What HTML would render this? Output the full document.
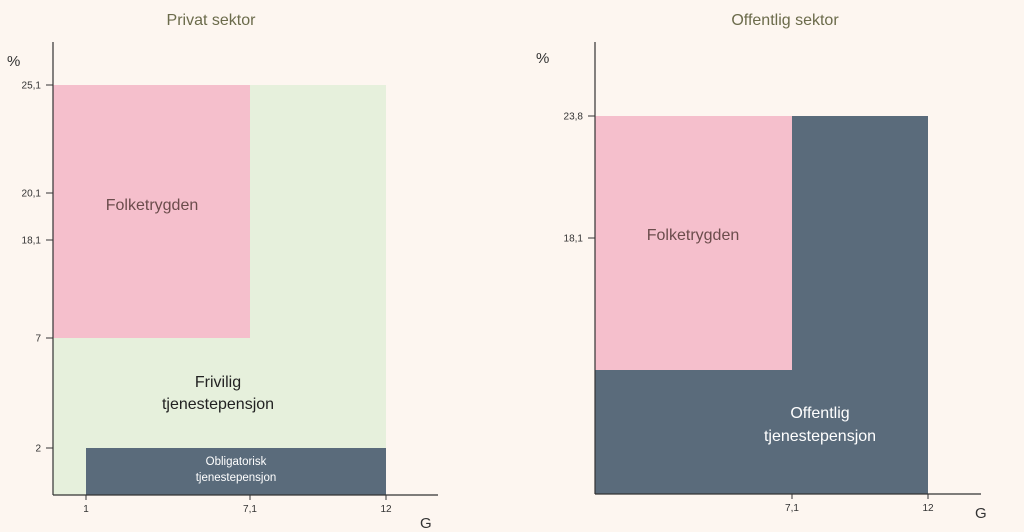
<!DOCTYPE html>
<html><head><meta charset="utf-8"><style>
html,body{margin:0;padding:0;background:#fdf6f0;}
svg{display:block;font-family:"Liberation Sans",sans-serif;}
</style></head><body>
<svg width="1024" height="532" viewBox="0 0 1024 532">
<rect width="1024" height="532" fill="#fdf6f0"/>
<g id="left"></g>
<g id="right"></g>
</svg>
<script>
// Private sector data
const privYTicks = [2, 7, 18.1, 20.1, 25.1];
const privYTickLabels = ["2", "7", "18,1", "20,1", "25,1"];
const privXTicks = [1, 7.1, 12];
const privXTickLabels = ["1", "7,1", "12"];
const privSegNames = ["frivilig", "folketrygden", "obligatorisk"];
const privX0 = [0, 0, 1];
const privX1 = [12, 7.1, 12];
const privY0 = [0, 7, 0];
const privY1 = [25.1, 25.1, 2];
// Public sector data
const pubYTicks = [18.1, 23.8];
const pubYTickLabels = ["18,1", "23,8"];
const pubXTicks = [7.1, 12];
const pubXTickLabels = ["7,1", "12"];
const pubSegNames = ["offentlig", "folketrygden"];
const pubX0 = [0, 0];
const pubX1 = [12, 7.1];
const pubY0 = [0, 7];
const pubY1 = [23.8, 23.8];

const NS = "http://www.w3.org/2000/svg";
function piece(dom, rng){
  return v => {
    for (let i = 0; i < dom.length - 1; i++) {
      if (v <= dom[i+1] || i === dom.length - 2) {
        const t = (v - dom[i]) / (dom[i+1] - dom[i]);
        return rng[i] + t * (rng[i+1] - rng[i]);
      }
    }
  };
}
function mk(parent, tag, attrs){
  const e = document.createElementNS(NS, tag);
  for (const k in attrs) e.setAttribute(k, attrs[k]);
  parent.appendChild(e); return e;
}
function txt(parent, x, y, s, size, fill, anchor){
  const t = mk(parent, "text", {x:x, y:y, "font-size":size, fill:fill, "text-anchor":anchor||"middle"});
  t.textContent = s; return t;
}

function drawChart(g, o){
  const {xs, ys, segX0, segX1, segY0, segY1, names, colors} = o;
  for (let i = 0; i < names.length; i++) {
    const x = xs(segX0[i]), x2 = xs(segX1[i]), y = ys(segY1[i]), y2 = ys(segY0[i]);
    const r = mk(g, "rect", {x:x, y:y, width:x2-x, height:y2-y, fill:colors[i]});
    
    
  }
  const ax = xs(0), ay = ys(0);
  const yl = mk(g, "line", {x1:ax, y1:42, x2:ax, y2:ay, stroke:"#333", "stroke-width":1.2});
  
  
  const xl = mk(g, "line", {x1:ax, y1:ay, x2:o.xEnd, y2:ay, stroke:"#333", "stroke-width":1.2});
  
  
  o.yTicks.forEach((v, i) => {
    const y = ys(v);
    const l = mk(g, "line", {x1:ax-7, y1:y, x2:ax, y2:y, stroke:"#333", "stroke-width":1});
    
    
    const t = txt(g, ax-12, y+3.5, o.yLabels[i], 10, "#333", "end");
    
    
  });
  o.xTicks.forEach((v, i) => {
    const x = xs(v);
    const l = mk(g, "line", {x1:x, y1:ay, x2:x, y2:ay+5, stroke:"#333", "stroke-width":1});
    
    
    const t = txt(g, x, ay+17, o.xLabels[i], 10, "#333");
    
    
  });
}

const L = document.getElementById("left");
const lxs = piece([0, 1, 7.1, 12], [53, 86, 250, 386]);
const lys = piece([0, 2, 7, 18.1, 20.1, 25.1], [495, 448, 338, 240, 193, 85]);
drawChart(L, {xs:lxs, ys:lys, segX0:privX0, segX1:privX1, segY0:privY0, segY1:privY1,
  names:privSegNames, colors:["#e6f0dc", "#f5bfcc", "#5a6b7b"], xEnd:438,
  yTicks:privYTicks, yLabels:privYTickLabels, xTicks:privXTicks, xLabels:privXTickLabels});

const R = document.getElementById("right");
const rxs = piece([0, 7.1, 12], [595, 792, 928]);
const rys = piece([0, 7, 18.1, 23.8], [494, 370, 238, 116]);
drawChart(R, {xs:rxs, ys:rys, segX0:pubX0, segX1:pubX1, segY0:pubY0, segY1:pubY1,
  names:pubSegNames, colors:["#5a6b7b", "#f5bfcc"], xEnd:981,
  yTicks:pubYTicks, yLabels:pubYTickLabels, xTicks:pubXTicks, xLabels:pubXTickLabels});
</script>
<svg width="1024" height="532" viewBox="0 0 1024 532" style="position:absolute;left:0;top:0;font-family:'Liberation Sans',sans-serif;">
<text x="211" y="25" font-size="16" fill="#6b6b4b" text-anchor="middle">Privat sektor</text>
<text x="785" y="25" font-size="16" fill="#6b6b4b" text-anchor="middle">Offentlig sektor</text>
<text x="7" y="66" font-size="15" fill="#333">%</text>
<text x="536" y="63" font-size="15" fill="#333">%</text>
<text x="420" y="528" font-size="15" fill="#333">G</text>
<text x="975" y="518" font-size="15" fill="#333">G</text>
<text x="152" y="210" font-size="16" fill="#6b4c4c" text-anchor="middle">Folketrygden</text>
<text x="218" y="387" font-size="16" fill="#222" text-anchor="middle">Frivilig</text>
<text x="218" y="409" font-size="16" fill="#222" text-anchor="middle">tjenestepensjon</text>
<text x="236" y="465" font-size="11.5" fill="#fff" text-anchor="middle">Obligatorisk</text>
<text x="236" y="481" font-size="11.5" fill="#fff" text-anchor="middle">tjenestepensjon</text>
<text x="693" y="240" font-size="16" fill="#6b4c4c" text-anchor="middle">Folketrygden</text>
<text x="820" y="418" font-size="16" fill="#fff" text-anchor="middle">Offentlig</text>
<text x="820" y="441" font-size="16" fill="#fff" text-anchor="middle">tjenestepensjon</text>
</svg>
</body></html>
